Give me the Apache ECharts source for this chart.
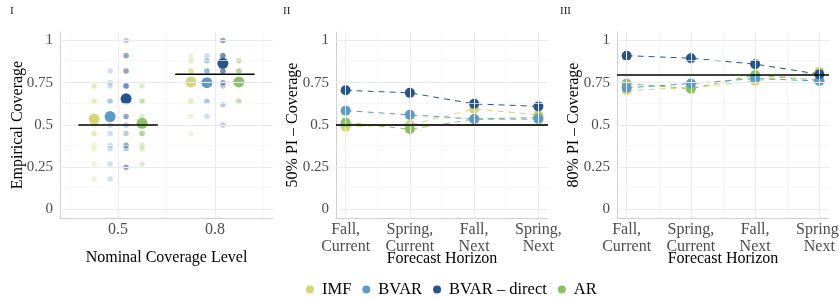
<!DOCTYPE html>
<html><head><meta charset="utf-8">
<script src="https://cdn.jsdelivr.net/npm/echarts@6/dist/echarts.min.js"></script>
<style>html,body{margin:0;padding:0;background:#fff}#c{width:839px;height:300px}</style>
</head><body><div id="c"></div>
<script>
// ---------- data ----------
const models = ['IMF', 'BVAR', 'BVAR \u2013 direct', 'AR'];
const modelColors = ['#d3d877', '#5a9bc8', '#27558b', '#8cc266'];
const nominalLevels = [0.5, 0.8];
const nominalLabels = ['0.5', '0.8'];
const yTicks = [0, 0.25, 0.5, 0.75, 1];

// panel I: mean empirical coverage per nominal level
const meanIMF = [0.535, 0.755];
const meanBVAR = [0.55, 0.75];
const meanDirect = [0.655, 0.865];
const meanAR = [0.51, 0.755];

// panel I: individual coverage values (repeated values = overlapping points)
const ptsIMF50 = [0.73, 0.73, 0.64, 0.64, 0.5, 0.45, 0.45, 0.38, 0.36, 0.27, 0.18];
const ptsBVAR50 = [0.82, 0.75, 0.73, 0.64, 0.64, 0.55, 0.5, 0.45, 0.38, 0.36, 0.27, 0.18];
const ptsDirect50 = [1.0, 0.91, 0.91, 0.82, 0.82, 0.73, 0.73, 0.73, 0.55, 0.55, 0.5, 0.45, 0.38, 0.38, 0.36, 0.25, 0.25];
const ptsAR50 = [0.73, 0.64, 0.64, 0.55, 0.5, 0.45, 0.45, 0.45, 0.38, 0.36, 0.27];
const ptsIMF80 = [0.91, 0.88, 0.88, 0.82, 0.82, 0.82, 0.75, 0.64, 0.64, 0.55, 0.45];
const ptsBVAR80 = [0.91, 0.88, 0.88, 0.82, 0.82, 0.82, 0.75, 0.64, 0.64, 0.55];
const ptsDirect80 = [1.0, 1.0, 0.91, 0.91, 0.91, 0.88, 0.82, 0.82, 0.82, 0.75, 0.75, 0.73, 0.62, 0.5];
const ptsAR80 = [0.88, 0.88, 0.82, 0.82, 0.82, 0.75, 0.64, 0.64];

// panels II / III
const horizons = ['Fall,\nCurrent', 'Spring,\nCurrent', 'Fall,\nNext', 'Spring,\nNext'];
const pi50IMF = [0.49, 0.50, 0.595, 0.56];
const pi50BVAR = [0.585, 0.56, 0.535, 0.535];
const pi50Direct = [0.705, 0.69, 0.625, 0.61];
const pi50AR = [0.515, 0.475, 0.535, 0.545];
const pi80IMF = [0.705, 0.72, 0.76, 0.815];
const pi80BVAR = [0.72, 0.745, 0.775, 0.76];
const pi80Direct = [0.91, 0.895, 0.86, 0.80];
const pi80AR = [0.745, 0.715, 0.795, 0.765];

// ---------- build ----------
const FONT = '"Liberation Serif", "Times New Roman", serif';
const meanByModel = [meanIMF, meanBVAR, meanDirect, meanAR];
const ptsByModel = [[ptsIMF50, ptsIMF80], [ptsBVAR50, ptsBVAR80], [ptsDirect50, ptsDirect80], [ptsAR50, ptsAR80]];
const pi50 = [pi50IMF, pi50BVAR, pi50Direct, pi50AR];
const pi80 = [pi80IMF, pi80BVAR, pi80Direct, pi80AR];
const dodge = 0.165;
const segHalf = 0.41;

const grids = [
  { left: 60, top: 32, width: 213, height: 186, outerBoundsMode: 'none', containLabel: false },
  { left: 336, top: 32, width: 212, height: 186, outerBoundsMode: 'none', containLabel: false },
  { left: 617, top: 32, width: 212, height: 186, outerBoundsMode: 'none', containLabel: false }
];
const xRanges = [[0.4, 2.6], [0.85, 4.15], [0.85, 4.15]];
const xMajor = [[1, 2], [1, 2, 3, 4], [1, 2, 3, 4]];
const xMinor = [[0.5, 1.5, 2.5], [1.5, 2.5, 3.5], [1.5, 2.5, 3.5]];
const yMinor = [0.125, 0.375, 0.625, 0.875];

const axisLineStyle = { show: true, onZero: false, lineStyle: { color: '#cfcfcf', width: 1 } };

const xAxis = [0, 1, 2].map(g => ({
  gridIndex: g, type: 'value', min: xRanges[g][0], max: xRanges[g][1],
  axisLine: axisLineStyle, axisTick: { show: false }, splitLine: { show: false },
  axisLabel: {
    customValues: xMajor[g],
    formatter: v => g === 0 ? nominalLabels[Math.round(v) - 1] : horizons[Math.round(v) - 1],
    fontFamily: FONT, fontSize: 16, color: '#4d4d4d', margin: 3, lineHeight: 17
  },
  name: g === 0 ? 'Nominal Coverage Level' : 'Forecast Horizon',
  nameLocation: 'middle', nameGap: g === 0 ? 32 : 33, nameMoveOverlap: false,
  nameTextStyle: { fontFamily: FONT, fontSize: 16, color: '#000' }
}));
const yNames = ['Empirical Coverage', '50% PI \u2013 Coverage', '80% PI \u2013 Coverage'];
const yAxis = [0, 1, 2].map(g => ({
  gridIndex: g, type: 'value', min: -0.05, max: 1.05,
  axisLine: axisLineStyle, axisTick: { show: false }, splitLine: { show: false },
  axisLabel: { customValues: yTicks, formatter: v => String(v), fontFamily: FONT, fontSize: 15, color: '#4d4d4d', margin: 7 },
  name: yNames[g], nameLocation: 'middle', nameGap: g === 0 ? 34 : 35, nameMoveOverlap: false,
  nameTextStyle: { fontFamily: FONT, fontSize: 16, color: '#000' }
}));

const series = [];
// grid lines
[0, 1, 2].forEach(g => {
  const md = [];
  yMinor.forEach(v => md.push({ yAxis: v, lineStyle: { color: '#f3f3f3', width: 0.7, type: 'solid' } }));
  xMinor[g].forEach(v => md.push({ xAxis: v, lineStyle: { color: '#f3f3f3', width: 0.7, type: 'solid' } }));
  yTicks.forEach(v => md.push({ yAxis: v, lineStyle: { color: '#ebebeb', width: 1, type: 'solid' } }));
  xMajor[g].forEach(v => md.push({ xAxis: v, lineStyle: { color: '#ebebeb', width: 1, type: 'solid' } }));
  series.push({
    type: 'line', xAxisIndex: g, yAxisIndex: g, data: [], silent: true, z: 0,
    markLine: { silent: true, symbol: ['none', 'none'], label: { show: false }, animation: false, data: md }
  });
});

// panel I means (first so the legend picks them up)
models.forEach((m, k) => {
  series.push({
    name: m, type: 'scatter', xAxisIndex: 0, yAxisIndex: 0, z: 4,
    symbolSize: 11, itemStyle: { color: modelColors[k], opacity: 1 },
    data: meanByModel[k].map((v, i) => [i + 1 + (k - 1.5) * dodge, v])
  });
});
// panel I individual points
models.forEach((m, k) => {
  const d = [];
  ptsByModel[k].forEach((arr, i) => arr.forEach(v => d.push([i + 1 + (k - 1.5) * dodge, v])));
  series.push({
    name: m, type: 'scatter', xAxisIndex: 0, yAxisIndex: 0, z: 3,
    symbolSize: 5.5, itemStyle: { color: modelColors[k], opacity: 0.3 }, data: d
  });
});
// panel I nominal segments
nominalLevels.forEach((lvl, i) => {
  series.push({
    type: 'line', xAxisIndex: 0, yAxisIndex: 0, z: 6, silent: true, symbol: 'none',
    lineStyle: { color: '#000', width: 1.5 },
    data: [[i + 1 - segHalf, lvl], [i + 1 + segHalf, lvl]]
  });
});

// panels II & III
const drawOrder = [0, 3, 1, 2]; // IMF, AR, BVAR, direct
[[1, pi50, nominalLevels[0]], [2, pi80, nominalLevels[1]]].forEach(([g, vals, lvl]) => {
  drawOrder.forEach((k, o) => {
    series.push({
      name: models[k], type: 'line', xAxisIndex: g, yAxisIndex: g, z: 3 + o * 0.1,
      symbol: 'circle', symbolSize: 10, showSymbol: true,
      lineStyle: { color: modelColors[k], width: 1, type: [6, 5] },
      itemStyle: { color: modelColors[k] },
      data: vals[k].map((v, i) => [i + 1, v])
    });
  });
  series.push({
    type: 'line', xAxisIndex: g, yAxisIndex: g, data: [], z: 6, silent: true,
    markLine: { silent: true, symbol: ['none', 'none'], label: { show: false }, animation: false,
      data: [{ yAxis: lvl, lineStyle: { color: g === 1 ? '#2a2a2a' : '#000', width: g === 1 ? 1.8 : 1.5, type: 'solid' } }] }
  });
});

const option = {
  animation: false,
  backgroundColor: '#fff',
  grid: grids,
  xAxis, yAxis, series,
  legend: {
    data: models, left: 301, top: 276, icon: 'circle',
    itemWidth: 14, itemHeight: 8, itemGap: 11,
    textStyle: { fontFamily: FONT, fontSize: 16.5, color: '#000' }
  },
  graphic: [
    { type: 'text', x: 10, y: 6, style: { text: 'I', fontFamily: FONT, fontSize: 11, fill: '#1a1a1a' } },
    { type: 'text', x: 283, y: 6, style: { text: 'II', fontFamily: FONT, fontSize: 11, fill: '#1a1a1a' } },
    { type: 'text', x: 560, y: 6, style: { text: 'III', fontFamily: FONT, fontSize: 11, fill: '#1a1a1a' } }
  ]
};
const chart = echarts.init(document.getElementById('c'), null, { renderer: 'canvas' });
chart.setOption(option);
</script>
</body></html>
